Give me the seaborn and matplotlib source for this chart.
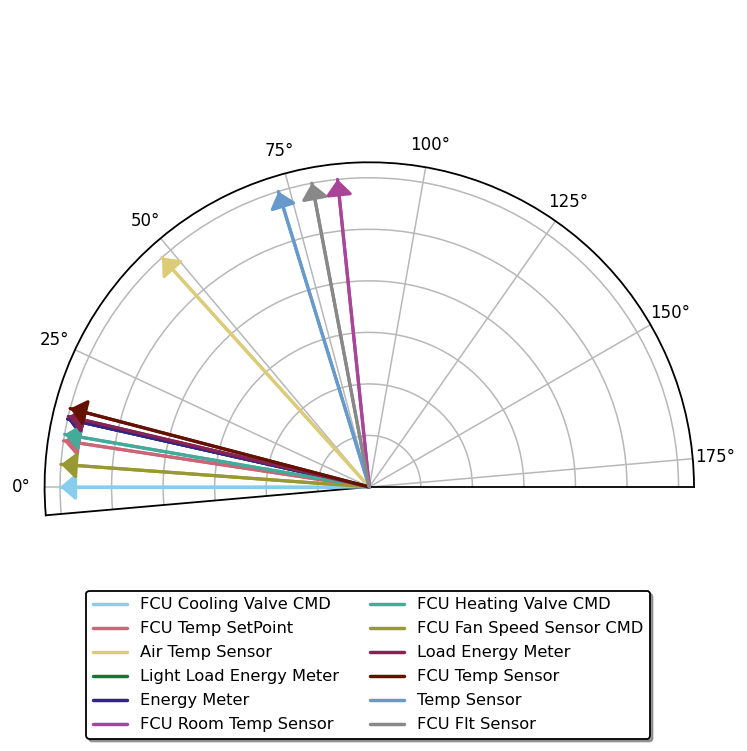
import numpy as np
import pandas as pd
import matplotlib
matplotlib.use("Agg")
import matplotlib.pyplot as plt
import seaborn as sns
from matplotlib.lines import Line2D

# ---- data ----
names = [
    "FCU Cooling Valve CMD", "FCU Temp SetPoint", "Air Temp Sensor",
    "Light Load Energy Meter", "Energy Meter", "FCU Room Temp Sensor",
    "FCU Heating Valve CMD", "FCU Fan Speed Sensor CMD", "Load Energy Meter",
    "FCU Temp Sensor", "Temp Sensor", "FCU Flt Sensor",
]
angles_deg = [0.0, 8.6, 47.9, 12.7, 12.7, 84.1, 9.8, 4.2, 13.2, 14.7, 72.9, 79.3]
lengths = [6, 6, 6, 6, 6, 6, 6, 6, 6, 6, 6, 6]
colors = ["#88CCEE", "#CC6677", "#DDCC77", "#117733", "#332288", "#AA4499",
          "#44AA99", "#999933", "#882255", "#661100", "#6699CC", "#888888"]
theta_ticks = [0, 25, 50, 75, 100, 125, 150, 175]

sns.set_theme(style="white")
plt.rcParams["font.family"] = ["DejaVu Sans"]
plt.rcParams["font.size"] = 12
plt.rcParams["text.color"] = "black"
plt.rcParams["xtick.color"] = "black"
plt.rcParams["ytick.color"] = "black"
plt.rcParams["axes.labelcolor"] = "black"

rows = []
for n, a, l in zip(names, angles_deg, lengths):
    rows.append({"name": n, "theta": 0.0, "r": 0.0})
    rows.append({"name": n, "theta": np.deg2rad(a), "r": l})
df = pd.DataFrame(rows)

W, H = 747, 751
fig = plt.figure(figsize=(W / 100, H / 100), dpi=100)
# square box, wedge (-5..180 deg) is centred inside it
ax = fig.add_axes([42 / W, 1 - 664 / H, 652 / W, 652 / H], projection="polar")
ax.set_theta_zero_location("W")
ax.set_theta_direction(-1)
ax.set_thetamin(-5)
ax.set_thetamax(180)

sns.lineplot(data=df, x="theta", y="r", hue="name", hue_order=names,
             palette=colors, sort=False, estimator=None, units="name",
             lw=2.3, ax=ax, legend=False)

for n, a, l, c in zip(names, angles_deg, lengths, colors):
    ax.annotate("", xy=(np.deg2rad(a), l), xytext=(0, 0),
                arrowprops=dict(arrowstyle="-|>,head_length=0.47,head_width=0.4",
                                color=c, lw=2.3, mutation_scale=20,
                                shrinkA=0, shrinkB=0))

ax.set_ylim(0, 6.3)
ax.set_yticks([1, 2, 3, 4, 5, 6])
ax.set_yticklabels([])
ax.set_xticks(np.deg2rad(theta_ticks))
ax.set_xticklabels([f"{t}°" for t in theta_ticks], fontsize=12, color="black")
ax.set_xlabel("")
ax.set_ylabel("")
ax.grid(True, color="#b8b8b8", lw=1.1)
for s in ["polar", "start", "end"]:
    ax.spines[s].set_color("black")
    ax.spines[s].set_linewidth(1.3)

handles = [Line2D([0], [0], color=c, lw=2.5) for c in colors]
leg = fig.legend(handles, names, loc="upper center", ncol=2,
                 bbox_to_anchor=(368 / W, 1 - 591 / H), borderaxespad=0,
                 frameon=True, shadow=True, fancybox=True, fontsize=11.7,
                 columnspacing=1.9, handlelength=2.1, handletextpad=0.8,
                 labelspacing=0.55, borderpad=0.4)
leg.get_frame().set_edgecolor("black")
leg.get_frame().set_linewidth(1.3)
leg.get_frame().set_alpha(1)
for t in leg.get_texts():
    t.set_color("black")

fig.savefig("out.png", dpi=100)
